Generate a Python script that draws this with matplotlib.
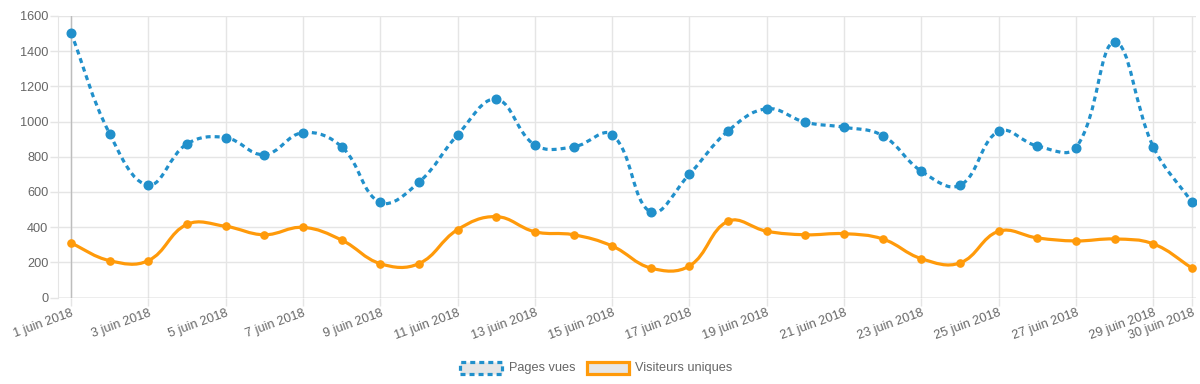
import numpy as np
import matplotlib
matplotlib.use("Agg")
import matplotlib.pyplot as plt
from matplotlib.path import Path
from matplotlib.patches import PathPatch, Rectangle

plt.rcParams['font.family'] = ['Liberation Sans', 'DejaVu Sans']
plt.rcParams['lines.scale_dashes'] = False

days = list(range(1, 31))
pages_vues = [1505, 931, 640, 873, 909, 812, 937, 857, 541, 655,
              924, 1127, 867, 856, 926, 486, 702, 947, 1073, 996,
              968, 920, 718, 638, 945, 861, 852, 1452, 856, 541]
visiteurs = [310, 210, 210, 416, 405, 357, 399, 327, 193, 193,
             386, 460, 374, 357, 293, 168, 180, 434, 377, 357,
             363, 333, 221, 197, 377, 339, 322, 333, 305, 168]
tick_days = list(range(1, 30, 2)) + [30]
tick_labels = [f"{d} juin 2018" for d in tick_days]

BLUE = '#2190cb'
ORANGE = '#ff9a0a'
GRID = '#e5e5e5'
TXT = '#666666'

# pixels per unit, used to shape the curve like Chart.js does
SX, SY = 38.66, 0.176


def smooth_path(x, y, t=0.4):
    px = np.asarray(x, float) * SX
    py = np.asarray(y, float) * SY
    n = len(px)
    cp_prev, cp_next = [], []
    for i in range(n):
        a = max(i - 1, 0)
        b = min(i + 1, n - 1)
        d01 = np.hypot(px[i] - px[a], py[i] - py[a])
        d12 = np.hypot(px[b] - px[i], py[b] - py[i])
        s = d01 + d12
        fa = t * d01 / s if s else 0
        fb = t * d12 / s if s else 0
        cp_prev.append((px[i] - fa * (px[b] - px[a]), py[i] - fa * (py[b] - py[a])))
        cp_next.append((px[i] + fb * (px[b] - px[a]), py[i] + fb * (py[b] - py[a])))
    verts = [(px[0], py[0])]
    codes = [Path.MOVETO]
    for i in range(n - 1):
        verts += [cp_next[i], cp_prev[i + 1], (px[i + 1], py[i + 1])]
        codes += [Path.CURVE4] * 3
    verts = [(vx / SX, vy / SY) for vx, vy in verts]
    return Path(verts, codes)


fig = plt.figure(figsize=(12, 3.84), dpi=100)
ax = fig.add_axes([58 / 1200, 1 - 297.6 / 384, (1196 - 58) / 1200, (297.6 - 16) / 384])

ax.set_xlim(1 - 13 / SX, 30 + 4 / SX)
ax.set_ylim(0, 1600)

ax.add_patch(PathPatch(smooth_path(days, pages_vues), fill=False, edgecolor=BLUE,
                       lw=2.3, linestyle=(0, (3.6, 2.9)), zorder=3))
ax.plot(days, pages_vues, 'o', color=BLUE, ms=6.2, zorder=4)

ax.add_patch(PathPatch(smooth_path(days, visiteurs), fill=False, edgecolor=ORANGE,
                       lw=2.3, zorder=3))
ax.plot(days, visiteurs, 'o', color=ORANGE, ms=5.2, zorder=4)

ax.set_yticks(range(0, 1601, 200))
ax.set_xticks(tick_days)
ax.set_xticklabels(tick_labels, rotation=20, ha='right', rotation_mode='anchor')
ax.grid(True, color=GRID, lw=1)
ax.set_axisbelow(True)
for s in ax.spines.values():
    s.set_visible(False)
ax.spines['left'].set_visible(True)
ax.spines['left'].set_color(GRID)
ax.axhline(0, color='#bdbdbd', lw=1, zorder=1)
ax.axvline(1, color='#bdbdbd', lw=1, zorder=1)
ax.tick_params(axis='both', colors=GRID, labelcolor=TXT, labelsize=9.2, length=6, width=1)
ax.tick_params(axis='y', pad=1)
ax.tick_params(axis='x', pad=1)
ax.xaxis.get_major_ticks()[0].tick1line.set_color('#bdbdbd')
ax.yaxis.get_major_ticks()[0].tick1line.set_color('#bdbdbd')

# legend
W, H = 1200, 384
def box(x0, x1, y0, y1, ec, ls):
    fig.add_artist(Rectangle((x0 / W, 1 - y1 / H), (x1 - x0) / W, (y1 - y0) / H,
                             transform=fig.transFigure, facecolor='#e6e6e6',
                             edgecolor=ec, lw=2.3, linestyle=ls))
box(460, 502, 362, 374, BLUE, (0, (3.6, 2.9)))
fig.text(509 / W, 1 - 368 / H, "Pages vues", color=TXT, fontsize=9.2, va='center')
box(587, 629, 362, 374, ORANGE, '-')
fig.text(635 / W, 1 - 368 / H, "Visiteurs uniques", color=TXT, fontsize=9.2, va='center')

fig.savefig("out.png", dpi=100)
